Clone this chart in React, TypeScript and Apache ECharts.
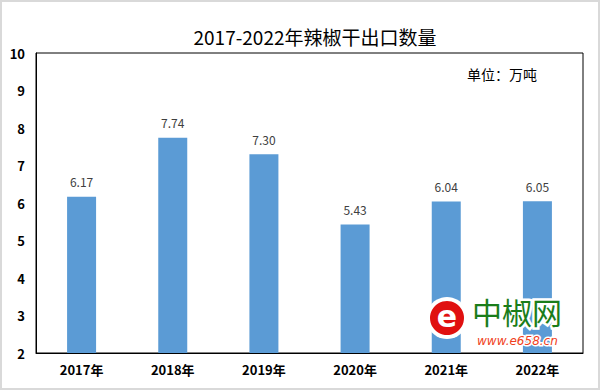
import React, { useEffect, useRef } from "react";
import * as echarts from "echarts";

const categories = ["2017年", "2018年", "2019年", "2020年", "2021年", "2022年"];
const values = [6.17, 7.74, 7.3, 5.43, 6.04, 6.05];
const titleText = "2017-2022年辣椒干出口数量";
const unitText = "单位：万吨";

const FONT = "'Noto Sans CJK SC', 'Noto Sans', sans-serif";

export default function App() {
  const ref = useRef<HTMLDivElement>(null);
  useEffect(() => {
    if (!ref.current) return;
    const chart = echarts.init(ref.current, null, { renderer: "svg" });
    chart.setOption({
      animation: false,
      backgroundColor: "#ffffff",
      title: {
        text: titleText,
        left: 310,
        top: 22,
        textAlign: "center",
        textStyle: { fontFamily: FONT, fontSize: 19, fontWeight: "normal", color: "#000" },
      },
      grid: {
        left: 36,
        right: 17,
        top: 53,
        bottom: 37,
        show: true,
        borderColor: "#000",
        borderWidth: 1,
        backgroundColor: "transparent",
      },
      xAxis: {
        type: "category",
        data: categories,
        axisLine: { show: true, lineStyle: { color: "#000", width: 1 } },
        axisTick: { show: false },
        axisLabel: { fontFamily: FONT, fontSize: 13, fontWeight: "bold", color: "#000", margin: 10 },
      },
      yAxis: {
        type: "value",
        min: 2,
        max: 10,
        interval: 1,
        splitLine: { show: false },
        axisLine: { show: true, lineStyle: { color: "#000", width: 1 } },
        axisTick: { show: false },
        axisLabel: { fontFamily: FONT, fontSize: 13, fontWeight: "bold", color: "#000", margin: 11 },
      },
      series: [
        {
          type: "bar",
          data: values,
          barWidth: 29,
          itemStyle: { color: "#5B9BD5" },
          label: {
            show: true,
            position: "top",
            distance: 9,
            formatter: (p: any) => p.value.toFixed(2),
            fontFamily: FONT,
            fontSize: 12,
            color: "#404040",
          },
        },
      ],
      graphic: {
        elements: [
          {
            type: "rect",
            z: 200,
            shape: { x: 1, y: 1, width: 598, height: 388 },
            style: { fill: "none", stroke: "#d9d9d9", lineWidth: 2 },
            silent: true,
          },
          {
            type: "text",
            z: 200,
            x: 467,
            y: 67,
            style: { text: unitText, fontFamily: FONT, fontSize: 14, fill: "#000" },
          },
          {
            type: "circle",
            z: 200,
            shape: { cx: 447, cy: 318, r: 21 },
            style: { fill: "#ffffff" },
          },
          {
            type: "circle",
            z: 201,
            shape: { cx: 447, cy: 318, r: 17 },
            style: { fill: "#e01010" },
          },
          {
            type: "text",
            z: 202,
            x: 447,
            y: 316,
            style: {
              text: "e",
              fontFamily: "'DejaVu Sans', sans-serif",
              fontSize: 30,
              fontWeight: "bold",
              fill: "#ffffff",
              align: "center",
              verticalAlign: "middle",
            },
          },
          {
            type: "text",
            z: 202,
            x: 472,
            y: 296,
            style: {
              text: "中椒网",
              fontFamily: FONT,
              fontSize: 30,
              lineHeight: 30,
              fill: "#1a7d1a",
              stroke: "#ffffff",
              lineWidth: 5,
            },
          },
          {
            type: "text",
            z: 202,
            x: 477,
            y: 335,
            style: {
              text: "www.e658.cn",
              fontFamily: "'DejaVu Sans', sans-serif",
              fontSize: 12,
              lineHeight: 12,
              fontStyle: "italic",
              fill: "#f04020",
              stroke: "#ffffff",
              lineWidth: 3,
            },
          },
        ],
      },
    });
    return () => chart.dispose();
  }, []);
  return (
    <div
      ref={ref}
      style={{ position: "fixed", left: 0, top: 0, width: 600, height: 390 }}
    />
  );
}
